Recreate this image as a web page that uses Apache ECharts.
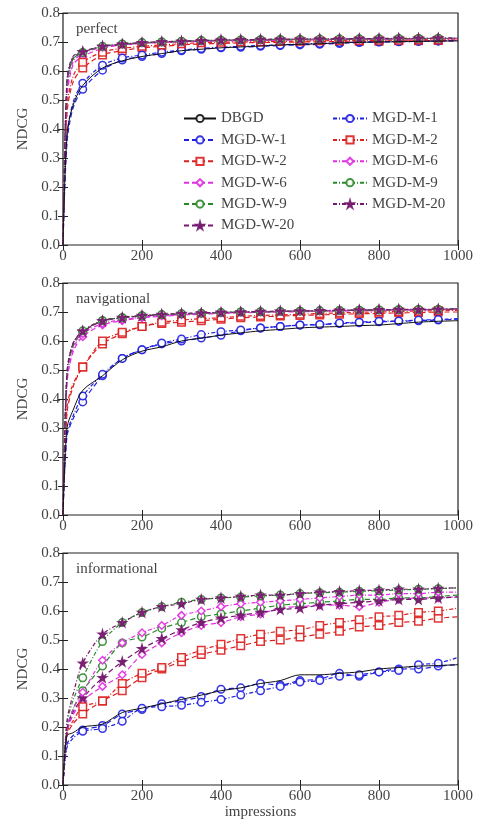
<!DOCTYPE html>
<html lang="en" style="height: 100%">
<head>
    <meta charset="UTF-8">
</head>
<body style="height: 100%; margin: 0; background: #fff">
  <div id="container" style="width: 481px; height: 823px"></div>

  <script type="text/javascript" src="https://fastly.jsdelivr.net/npm/echarts@6.0.0/dist/echarts.min.js"></script>
  <script type="text/javascript">
// impressions at which the curves are sampled (markers every 50)
var xs = [0, 10, 25, 50, 100, 150, 200, 250, 300, 350, 400, 450, 500, 550, 600, 650, 700, 750, 800, 850, 900, 950, 1000];
var seriesNames = ['DBGD', 'MGD-W-1', 'MGD-W-2', 'MGD-W-6', 'MGD-W-9', 'MGD-W-20',
                   'MGD-M-1', 'MGD-M-2', 'MGD-M-6', 'MGD-M-9', 'MGD-M-20'];
var panelTitles = ['perfect', 'navigational', 'informational'];

// NDCG per series, same order as seriesNames
var perfectValues = [
  [0, 0.38, 0.48, 0.55, 0.61, 0.635, 0.65, 0.66, 0.67, 0.675, 0.68, 0.683, 0.686, 0.69, 0.692, 0.694, 0.697, 0.699, 0.70, 0.701, 0.702, 0.703, 0.704],
  [0, 0.35, 0.47, 0.537, 0.603, 0.638, 0.65, 0.66, 0.67, 0.675, 0.68, 0.682, 0.685, 0.688, 0.69, 0.692, 0.695, 0.698, 0.70, 0.701, 0.702, 0.703, 0.704],
  [0, 0.45, 0.56, 0.61, 0.655, 0.67, 0.68, 0.685, 0.69, 0.693, 0.695, 0.697, 0.698, 0.699, 0.70, 0.701, 0.702, 0.703, 0.703, 0.704, 0.704, 0.705, 0.705],
  [0, 0.5, 0.62, 0.65, 0.678, 0.69, 0.695, 0.698, 0.70, 0.702, 0.703, 0.704, 0.705, 0.706, 0.707, 0.707, 0.708, 0.709, 0.709, 0.71, 0.71, 0.711, 0.711],
  [0, 0.55, 0.64, 0.663, 0.684, 0.692, 0.697, 0.70, 0.702, 0.704, 0.705, 0.706, 0.707, 0.708, 0.708, 0.709, 0.71, 0.71, 0.711, 0.711, 0.712, 0.712, 0.712],
  [0, 0.56, 0.645, 0.665, 0.684, 0.691, 0.696, 0.699, 0.701, 0.703, 0.705, 0.706, 0.707, 0.708, 0.709, 0.709, 0.71, 0.71, 0.711, 0.711, 0.712, 0.712, 0.712],
  [0, 0.37, 0.49, 0.558, 0.62, 0.645, 0.655, 0.665, 0.672, 0.678, 0.682, 0.685, 0.688, 0.69, 0.693, 0.695, 0.698, 0.70, 0.701, 0.702, 0.703, 0.704, 0.705],
  [0, 0.47, 0.58, 0.63, 0.665, 0.678, 0.685, 0.69, 0.694, 0.697, 0.699, 0.70, 0.701, 0.702, 0.703, 0.704, 0.705, 0.705, 0.706, 0.706, 0.707, 0.707, 0.708],
  [0, 0.52, 0.63, 0.66, 0.682, 0.692, 0.697, 0.70, 0.702, 0.704, 0.705, 0.706, 0.707, 0.708, 0.709, 0.709, 0.71, 0.71, 0.711, 0.711, 0.712, 0.712, 0.713],
  [0, 0.55, 0.64, 0.664, 0.685, 0.693, 0.698, 0.70, 0.703, 0.705, 0.706, 0.707, 0.708, 0.709, 0.709, 0.71, 0.71, 0.711, 0.711, 0.712, 0.712, 0.713, 0.713],
  [0, 0.57, 0.65, 0.667, 0.686, 0.693, 0.698, 0.701, 0.703, 0.705, 0.707, 0.708, 0.709, 0.71, 0.71, 0.711, 0.711, 0.712, 0.712, 0.713, 0.713, 0.714, 0.714]
];
var navigationalValues = [
  [0, 0.30, 0.36, 0.43, 0.48, 0.535, 0.565, 0.58, 0.60, 0.61, 0.62, 0.628, 0.635, 0.64, 0.645, 0.648, 0.65, 0.653, 0.655, 0.66, 0.665, 0.668, 0.67],
  [0, 0.27, 0.33, 0.39, 0.48, 0.54, 0.57, 0.59, 0.60, 0.61, 0.62, 0.635, 0.645, 0.65, 0.655, 0.656, 0.66, 0.663, 0.666, 0.668, 0.67, 0.672, 0.675],
  [0, 0.35, 0.44, 0.51, 0.59, 0.625, 0.65, 0.66, 0.665, 0.67, 0.675, 0.68, 0.683, 0.686, 0.688, 0.69, 0.692, 0.694, 0.695, 0.697, 0.698, 0.70, 0.70],
  [0, 0.45, 0.56, 0.615, 0.655, 0.67, 0.68, 0.685, 0.69, 0.692, 0.695, 0.697, 0.699, 0.70, 0.701, 0.702, 0.703, 0.704, 0.705, 0.706, 0.707, 0.708, 0.708],
  [0, 0.48, 0.58, 0.63, 0.67, 0.68, 0.687, 0.69, 0.693, 0.695, 0.698, 0.70, 0.70, 0.702, 0.703, 0.704, 0.705, 0.706, 0.707, 0.708, 0.708, 0.709, 0.71],
  [0, 0.48, 0.59, 0.632, 0.668, 0.68, 0.686, 0.69, 0.693, 0.695, 0.697, 0.699, 0.70, 0.702, 0.703, 0.704, 0.705, 0.706, 0.707, 0.708, 0.708, 0.709, 0.71],
  [0, 0.28, 0.34, 0.41, 0.485, 0.54, 0.57, 0.593, 0.607, 0.622, 0.632, 0.638, 0.645, 0.65, 0.655, 0.657, 0.662, 0.665, 0.668, 0.669, 0.672, 0.674, 0.677],
  [0, 0.37, 0.45, 0.51, 0.60, 0.63, 0.65, 0.665, 0.672, 0.677, 0.68, 0.685, 0.688, 0.69, 0.692, 0.695, 0.697, 0.699, 0.70, 0.702, 0.703, 0.705, 0.706],
  [0, 0.46, 0.57, 0.625, 0.66, 0.673, 0.682, 0.687, 0.691, 0.694, 0.697, 0.699, 0.70, 0.702, 0.703, 0.704, 0.705, 0.706, 0.707, 0.707, 0.708, 0.709, 0.709],
  [0, 0.49, 0.59, 0.635, 0.67, 0.68, 0.687, 0.691, 0.694, 0.696, 0.698, 0.70, 0.701, 0.702, 0.703, 0.704, 0.705, 0.706, 0.707, 0.708, 0.709, 0.709, 0.71],
  [0, 0.49, 0.59, 0.635, 0.67, 0.681, 0.688, 0.692, 0.695, 0.697, 0.699, 0.70, 0.702, 0.703, 0.704, 0.705, 0.706, 0.707, 0.708, 0.709, 0.709, 0.71, 0.711]
];
var informationalValues = [
  [0, 0.17, 0.18, 0.20, 0.21, 0.25, 0.265, 0.28, 0.295, 0.31, 0.325, 0.335, 0.35, 0.36, 0.38, 0.38, 0.385, 0.39, 0.40, 0.405, 0.41, 0.412, 0.415],
  [0, 0.14, 0.17, 0.19, 0.205, 0.245, 0.26, 0.28, 0.29, 0.305, 0.33, 0.335, 0.35, 0.345, 0.36, 0.365, 0.385, 0.375, 0.39, 0.40, 0.40, 0.41, 0.415],
  [0, 0.17, 0.21, 0.245, 0.29, 0.325, 0.37, 0.40, 0.425, 0.45, 0.465, 0.48, 0.495, 0.50, 0.51, 0.52, 0.53, 0.545, 0.55, 0.56, 0.565, 0.575, 0.58],
  [0, 0.18, 0.24, 0.29, 0.34, 0.38, 0.45, 0.49, 0.525, 0.55, 0.56, 0.58, 0.59, 0.61, 0.615, 0.62, 0.62, 0.615, 0.63, 0.64, 0.645, 0.645, 0.65],
  [0, 0.19, 0.26, 0.325, 0.41, 0.49, 0.51, 0.54, 0.56, 0.58, 0.59, 0.60, 0.61, 0.62, 0.625, 0.63, 0.635, 0.64, 0.64, 0.645, 0.645, 0.65, 0.655],
  [0, 0.19, 0.25, 0.30, 0.37, 0.425, 0.47, 0.505, 0.535, 0.56, 0.575, 0.585, 0.595, 0.605, 0.61, 0.62, 0.625, 0.63, 0.635, 0.64, 0.64, 0.645, 0.648],
  [0, 0.13, 0.16, 0.185, 0.195, 0.22, 0.265, 0.27, 0.275, 0.285, 0.295, 0.31, 0.325, 0.34, 0.355, 0.36, 0.375, 0.38, 0.39, 0.395, 0.415, 0.42, 0.44],
  [0, 0.18, 0.22, 0.27, 0.29, 0.35, 0.385, 0.405, 0.44, 0.465, 0.485, 0.505, 0.52, 0.53, 0.535, 0.55, 0.56, 0.57, 0.58, 0.585, 0.595, 0.60, 0.61],
  [0, 0.19, 0.26, 0.32, 0.43, 0.49, 0.525, 0.55, 0.585, 0.60, 0.615, 0.625, 0.63, 0.635, 0.64, 0.645, 0.65, 0.655, 0.655, 0.66, 0.66, 0.665, 0.665],
  [0, 0.21, 0.29, 0.37, 0.495, 0.56, 0.595, 0.615, 0.63, 0.64, 0.645, 0.648, 0.652, 0.655, 0.66, 0.663, 0.665, 0.668, 0.67, 0.672, 0.675, 0.677, 0.68],
  [0, 0.22, 0.31, 0.42, 0.52, 0.56, 0.595, 0.615, 0.625, 0.64, 0.645, 0.65, 0.655, 0.655, 0.66, 0.665, 0.667, 0.67, 0.672, 0.675, 0.675, 0.678, 0.68]
];
var panelValues = [perfectValues, navigationalValues, informationalValues];

var dom = document.getElementById('container');
var myChart = echarts.init(dom, null, { renderer: 'canvas' });

var FONT = 'Liberation Serif';
var TXT = '#444';
var STAR = 'path://M50,0 L61,35 L98,35 L68,57 L79,91 L50,70 L21,91 L32,57 L2,35 L39,35 Z';

// style per series name
var looks = {
  'DBGD':     { color: '#111',    symbol: 'none',    dash: 'solid' },
  'MGD-W-1':  { color: '#1f1fe0', symbol: 'circle',  dash: [5, 3] },
  'MGD-W-2':  { color: '#dd1f1f', symbol: 'rect',    dash: [5, 3] },
  'MGD-W-6':  { color: '#e02ee0', symbol: 'diamond', dash: [5, 3] },
  'MGD-W-9':  { color: '#2a8a2a', symbol: 'circle',  dash: [5, 3] },
  'MGD-W-20': { color: '#76186e', symbol: STAR,      dash: [5, 3] },
  'MGD-M-1':  { color: '#1f1fe0', symbol: 'circle',  dash: [4, 2, 1, 2] },
  'MGD-M-2':  { color: '#dd1f1f', symbol: 'rect',    dash: [4, 2, 1, 2] },
  'MGD-M-6':  { color: '#e02ee0', symbol: 'diamond', dash: [4, 2, 1, 2] },
  'MGD-M-9':  { color: '#2a8a2a', symbol: 'circle',  dash: [4, 2, 1, 2] },
  'MGD-M-20': { color: '#76186e', symbol: STAR,      dash: [4, 2, 1, 2] }
};

var gridTops = [13, 283, 553];
var gridH = 232;
var grids = [], xAxes = [], yAxes = [], series = [], titles = [];

gridTops.forEach(function (top, g) {
  grids.push({
    left: 63, right: 23, top: top, height: gridH,
    show: true, borderColor: '#222', borderWidth: 1.2, backgroundColor: 'transparent'
  });
  var tick = { show: true, inside: true, length: 5, lineStyle: { color: '#222', width: 1 } };
  xAxes.push({
    type: 'value', gridIndex: g, min: 0, max: 1000, interval: 200,
    axisLine: { show: false }, axisTick: tick, splitLine: { show: false },
    axisLabel: {
      color: TXT, fontFamily: FONT, fontSize: 15, margin: 4,
      formatter: function (v) { return String(v); }
    },
    name: g === 2 ? 'impressions' : '', nameLocation: 'middle', nameGap: 20,
    nameTextStyle: { color: TXT, fontFamily: FONT, fontSize: 15 }
  });
  xAxes.push({
    type: 'value', gridIndex: g, min: 0, max: 1000, interval: 200, position: 'top',
    axisLine: { show: false }, axisTick: tick, splitLine: { show: false },
    axisLabel: { show: false }
  });
  yAxes.push({
    type: 'value', gridIndex: g, min: 0, max: 0.8, interval: 0.1,
    axisLine: { show: false }, axisTick: tick, splitLine: { show: false },
    axisLabel: {
      color: TXT, fontFamily: FONT, fontSize: 15, margin: 3,
      formatter: function (v) { return v.toFixed(1); }
    },
    name: 'NDCG', nameLocation: 'middle', nameGap: 27, nameRotate: 90,
    nameTextStyle: { color: TXT, fontFamily: FONT, fontSize: 15 }
  });
  yAxes.push({
    type: 'value', gridIndex: g, min: 0, max: 0.8, interval: 0.1, position: 'right',
    axisLine: { show: false }, axisTick: tick, splitLine: { show: false },
    axisLabel: { show: false }
  });
  titles.push({
    text: panelTitles[g], left: 71, top: top + 4,
    textStyle: { color: TXT, fontFamily: FONT, fontSize: 15, fontWeight: 'normal' }
  });

  seriesNames.forEach(function (name, s) {
    var lk = looks[name];
    var vals = panelValues[g][s];
    var data = xs.map(function (x, i) { return [x, vals[i]]; });
    var filled = lk.symbol === STAR;
    series.push({
      type: 'line', name: name, xAxisIndex: g * 2, yAxisIndex: g * 2,
      data: data, smooth: 0.3, z: name === 'DBGD' ? 3 : 2,
      symbol: lk.symbol,
      symbolSize: function (v) {
        var x = v[0];
        if (x > 0 && x < 1000 && x % 50 === 0) return filled ? 8 : 7.5;
        return 0;
      },
      showAllSymbol: true,
      lineStyle: { color: lk.color, width: name === 'DBGD' ? 1 : 1.2, type: lk.dash },
      itemStyle: {
        color: filled ? lk.color : '#fff',
        borderColor: lk.color, borderWidth: 1.5, opacity: 0.9
      },
      emphasis: { disabled: true },
      animation: false
    });
  });
});

var legendText = { color: TXT, fontFamily: FONT, fontSize: 15, lineHeight: 14 };
var option = {
  backgroundColor: '#fff',
  title: titles,
  grid: grids,
  xAxis: xAxes,
  yAxis: yAxes,
  legend: [
    {
      data: seriesNames.slice(0, 6), orient: 'vertical', left: 178, top: 106,
      itemWidth: 32, itemHeight: 9, itemGap: 6.4, textStyle: legendText,
      selectedMode: false
    },
    {
      data: seriesNames.slice(6), orient: 'vertical', left: 327, top: 106,
      itemWidth: 34, itemHeight: 9, itemGap: 6.4, textStyle: legendText,
      selectedMode: false
    }
  ],
  series: series
};

myChart.setOption(option);
window.addEventListener('resize', myChart.resize);
  </script>
</body>
</html>
